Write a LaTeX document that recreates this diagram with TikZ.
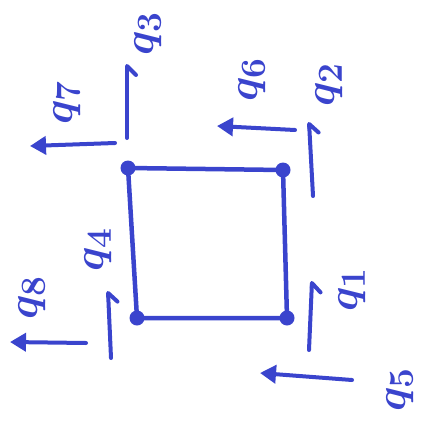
\documentclass[tikz,border=0pt]{standalone}
\usetikzlibrary{arrows.meta}
\definecolor{penblue}{RGB}{58,68,205}
\newcommand{\qlabel}[1]{\scalebox{1.7}{$q_{#1}$}}
\tikzset{
  x=1pt, y=-1pt,
  edge/.style={draw=penblue, line width=4.5pt, line cap=round, line join=round},
  corner/.style={circle, fill=penblue, inner sep=0pt, minimum size=15pt},
  leftarrow/.style={draw=penblue, line width=4pt, line cap=round, -{Triangle[length=16pt,width=18pt]}},
  uparrow/.style={draw=penblue, line width=4pt, line cap=round, -{Straight Barb[harpoon,swap,length=9pt,width=18pt,line width=4pt,round]}},
  lbl/.style={text=penblue, rotate=90, inner sep=0pt, font=\Huge\boldmath}
}
\begin{document}
\begin{tikzpicture}
\useasboundingbox (0,0) rectangle (438,428);
% square corners
\node[corner] (tl) at (128,168) {};
\node[corner] (tr) at (283,170) {};
\node[corner] (br) at (287,318) {};
\node[corner] (bl) at (137,318) {};
\draw[edge] (tl.center) -- (tr.center) -- (br.center) -- (bl.center) -- cycle;
% arrow endpoints
\coordinate (a7s) at (115,143); \coordinate (a7e) at (30,146);
\coordinate (a3s) at (127,138); \coordinate (a3e) at (127,64);
\coordinate (a6s) at (295,130); \coordinate (a6e) at (217,126);
\coordinate (a2s) at (313,196); \coordinate (a2e) at (309,122);
\coordinate (a4s) at (111,358); \coordinate (a4e) at (108,291);
\coordinate (a8s) at (86,343);  \coordinate (a8e) at (10,342);
\coordinate (a1s) at (309,350); \coordinate (a1e) at (312,281);
\coordinate (a5s) at (352,380); \coordinate (a5e) at (260,373);
\draw[leftarrow] (a7s) -- (a7e);
\draw[uparrow] (a3s) -- (a3e);
\draw[leftarrow] (a6s) -- (a6e);
\draw[uparrow] (a2s) -- (a2e);
\draw[uparrow] (a4s) -- (a4e);
\draw[leftarrow] (a8s) -- (a8e);
\draw[uparrow] (a1s) -- (a1e);
\draw[leftarrow] (a5s) -- (a5e);
% labels
\node[lbl] (q7) at (67,103) {\qlabel{7}};
\node[lbl] (q3) at (148,34) {\qlabel{3}};
\node[lbl] (q6) at (252,80) {\qlabel{6}};
\node[lbl] (q2) at (329,85) {\qlabel{2}};
\node[lbl] (q4) at (98,250) {\qlabel{4}};
\node[lbl] (q8) at (32,298) {\qlabel{8}};
\node[lbl] (q1) at (352,290) {\qlabel{1}};
\node[lbl] (q5) at (400,390) {\qlabel{5}};
\end{tikzpicture}
\end{document}
